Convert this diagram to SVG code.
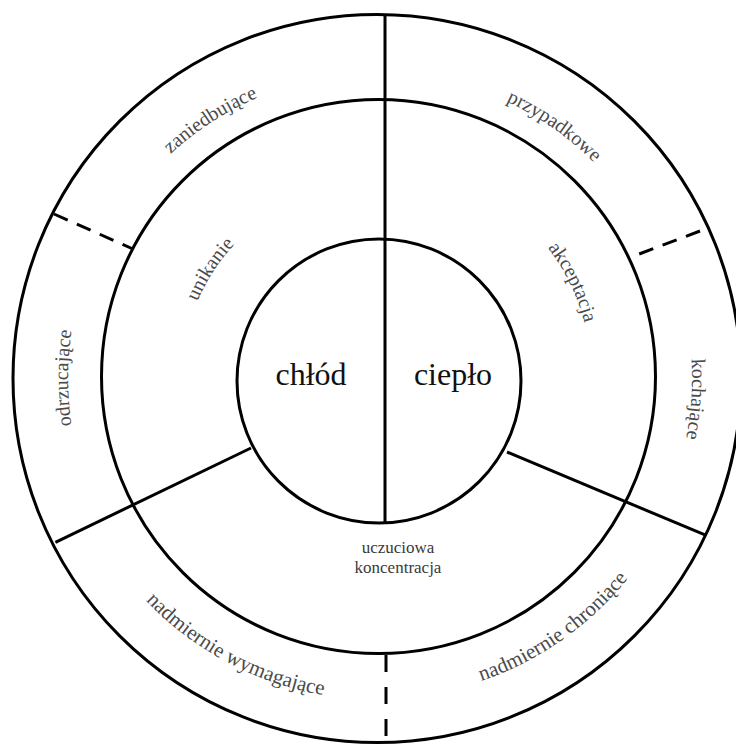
<svg xmlns="http://www.w3.org/2000/svg" width="736" height="745" viewBox="0 0 736 745">
<style>
.ring{fill:none;stroke:#000;stroke-width:3}
.ln{stroke:#000;stroke-width:3;fill:none}
.dash{stroke:#000;stroke-width:3;fill:none;stroke-dasharray:15 10}
.lbl{font-family:"Liberation Serif","Times New Roman",serif;font-size:20px;fill:#4a4a4a}
.lbb{font-family:"Liberation Serif","Times New Roman",serif;font-size:21px;fill:#4a4a4a}
.sm{font-family:"Liberation Serif","Times New Roman",serif;font-size:17px;fill:#3a3a3a}
.big{font-family:"Liberation Serif","Times New Roman",serif;font-size:32px;fill:#111}
</style>
<defs>
<path id="pZan" d="M97.2,497.2 A305,305 0 0 1 601.1,170.0"/>
<path id="pPrz" d="M162.3,162.3 A305,305 0 0 1 654.4,506.9"/>
<path id="pUni" d="M244.3,521.4 A196,196 0 0 1 454.6,197.6"/>
<path id="pAkc" d="M319.3,175.0 A210,210 0 0 1 501.4,547.9"/>
<path id="pWym" d="M71.8,278.5 A322,322 0 0 0 631.7,576.2"/>
<path id="pChr" d="M150.3,605.7 A323,323 0 0 0 670.7,241.5"/>
<path id="pOdr" d="M324.2,683.3 A310,310 0 0 1 324.2,72.7"/>
<path id="pKoc" d="M452.9,73.1 A314,314 0 0 1 411.9,690.2"/>
</defs>
<rect width="736" height="745" fill="#fff"/>
<g id="outer-ring">
<circle class="ring" cx="377" cy="378.5" r="364"/>
</g>
<g id="middle-ring">
<circle class="ring" cx="378.5" cy="376.5" r="277"/>
</g>
<g id="inner-circle">
<circle class="ring" cx="379" cy="381" r="142"/>
</g>
<g id="connectors">
<line class="ln" x1="385" y1="15" x2="385" y2="523"/>
<line class="ln" x1="251" y1="448" x2="55.4" y2="542.3"/>
<line class="ln" x1="507" y1="452" x2="705.6" y2="535.2"/>
<line class="dash" x1="54" y1="214" x2="133" y2="249"/>
<line class="dash" x1="700" y1="231" x2="634" y2="256"/>
<line class="dash" x1="386" y1="655" x2="386" y2="745" style="stroke-dasharray:17 15"/>
</g>
<g id="node-chlod"><text class="big" x="311" y="385" text-anchor="middle">chłód</text></g>
<g id="node-cieplo"><text class="big" x="453" y="385" text-anchor="middle">ciepło</text></g>
<g id="node-unikanie"><text class="lbl"><textPath href="#pUni" startOffset="50%" text-anchor="middle">unikanie</textPath></text></g>
<g id="node-akceptacja"><text class="lbl"><textPath href="#pAkc" startOffset="50%" text-anchor="middle">akceptacja</textPath></text></g>
<g id="node-uczuciowa"><text class="sm" x="398" y="553" text-anchor="middle">uczuciowa</text><text class="sm" x="398" y="573" text-anchor="middle">koncentracja</text></g>
<g id="node-zaniedbujace"><text class="lbl"><textPath href="#pZan" startOffset="50%" text-anchor="middle">zaniedbujące</textPath></text></g>
<g id="node-przypadkowe"><text class="lbl"><textPath href="#pPrz" startOffset="50%" text-anchor="middle">przypadkowe</textPath></text></g>
<g id="node-odrzucajace"><text class="lbl"><textPath href="#pOdr" startOffset="50%" text-anchor="middle">odrzucające</textPath></text></g>
<g id="node-kochajace"><text class="lbl"><textPath href="#pKoc" startOffset="50%" text-anchor="middle">kochające</textPath></text></g>
<g id="node-wymagajace"><text class="lbb"><textPath href="#pWym" startOffset="50%" text-anchor="middle">nadmiernie wymagające</textPath></text></g>
<g id="node-chroniace"><text class="lbb"><textPath href="#pChr" startOffset="50%" text-anchor="middle">nadmiernie chroniące</textPath></text></g>
</svg>
